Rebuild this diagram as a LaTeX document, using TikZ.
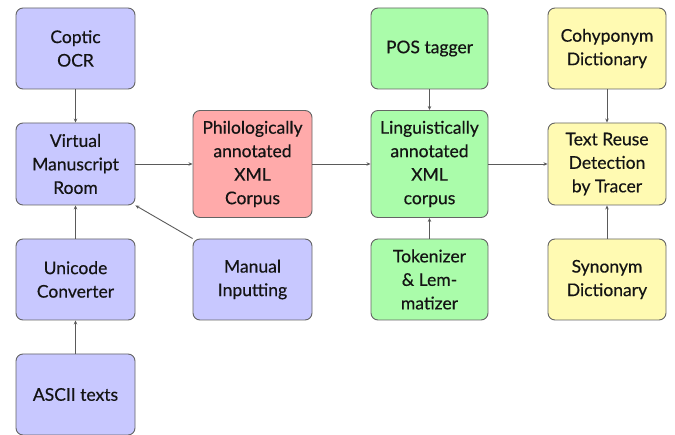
\documentclass[tikz,border=0pt]{standalone}
\usepackage{fontspec}
\setmainfont[FakeBold=0.4]{Lato}
\usetikzlibrary{arrows.meta}
\definecolor{cblue}{RGB}{200,200,255}
\definecolor{cred}{RGB}{255,170,170}
\definecolor{cgreen}{RGB}{170,252,170}
\definecolor{cyellow}{RGB}{255,250,178}
\definecolor{cedge}{RGB}{100,100,100}
\definecolor{carrow}{RGB}{90,90,90}
\tikzset{
  box/.style={draw=cedge, line width=0.9pt, rounded corners=7pt, align=center,
    minimum width=119pt, minimum height=81pt, inner sep=0pt,
    font=\fontsize{17.5}{23.5}\selectfont, text=black!92},
  bluebox/.style={box, fill=cblue},
  redbox/.style={box, fill=cred},
  greenbox/.style={box, fill=cgreen},
  yellowbox/.style={box, fill=cyellow},
  conn/.style={draw=carrow, line width=0.9pt, -{Stealth[length=4pt,width=3.5pt]}}
}
\begin{document}
\begin{tikzpicture}[x=1pt,y=-1pt]
\useasboundingbox (0,0) rectangle (675,435);
\node[bluebox] (ocr) at (75.5,48.5) {Coptic\\OCR};
\node[bluebox, minimum height=82pt] (vmr) at (75.5,164) {Virtual\\Manuscript\\Room};
\node[bluebox] (uni) at (75.5,279.5) {Unicode\\Converter};
\node[bluebox] (ascii) at (75.5,394.5) {ASCII texts};
\node[redbox, minimum height=107pt] (philo) at (252.5,164) {Philologically\\annotated\\XML\\Corpus};
\node[bluebox] (man) at (252.5,279.5) {Manual\\Inputting};
\node[greenbox, minimum width=117pt] (pos) at (429.5,48.5) {POS tagger};
\node[greenbox, minimum width=117pt, minimum height=107pt] (ling) at (429.5,164) {Linguistically\\annotated\\XML\\corpus};
\node[greenbox, minimum width=117pt] (tok) at (429.5,279.5) {Tokenizer\\\&~Lem-\\matizer};
\node[yellowbox, minimum width=118pt] (cohy) at (607,48.5) {Cohyponym\\Dictionary};
\node[yellowbox, minimum width=118pt, minimum height=82pt] (tr) at (607,164) {Text Reuse\\Detection\\by Tracer};
\node[yellowbox, minimum width=118pt] (syn) at (607,279.5) {Synonym\\Dictionary};
\draw[conn] (ocr) -- (vmr);
\draw[conn] (uni) -- (vmr);
\draw[conn] (ascii) -- (uni);
\draw[conn] (man.north west) -- (vmr.south east);
\draw[conn] (vmr) -- (philo);
\draw[conn] (philo) -- (ling);
\draw[conn] (pos) -- (ling);
\draw[conn] (tok) -- (ling);
\draw[conn] (ling) -- (tr);
\draw[conn] (cohy) -- (tr);
\draw[conn] (syn) -- (tr);
\end{tikzpicture}
\end{document}
